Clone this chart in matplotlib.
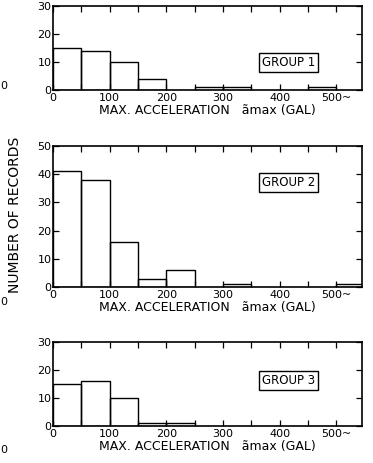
import matplotlib
matplotlib.use("Agg")
import matplotlib.pyplot as plt
import numpy as np

# histogram bins (gal) and counts
bin_left = [0, 50, 100, 150, 200, 250, 300, 350, 400, 450, 500]
group1 = [15, 14, 10, 4, 0, 1, 1, 0, 0, 1, 0]
group2 = [41, 38, 16, 3, 6, 0, 1, 0, 0, 0, 1]
group3 = [15, 16, 10, 1, 1, 0, 0, 0, 0, 0, 0]
group_names = ["GROUP 1", "GROUP 2", "GROUP 3"]
y_max = [30, 50, 30]
x_ticks = [0, 100, 200, 300, 400, 500]
x_ticklabels = ["0", "100", "200", "300", "400", "500~"]

plt.rcParams['font.family'] = ['DejaVu Sans']

fig = plt.figure(figsize=(3.73, 4.63), dpi=100)

# axes boxes in figure fraction: left, bottom, width, height
boxes = [
    [0.142, 0.806, 0.828, 0.181],
    [0.142, 0.380, 0.828, 0.305],
    [0.142, 0.080, 0.828, 0.181],
]
label_y = [0.33, 0.74, 0.54]

for counts, name, ymax, box, ly in zip([group1, group2, group3], group_names,
                                       y_max, boxes, label_y):
    ax = fig.add_axes(box)
    h = np.array(counts, dtype=float)
    keep = h > 0
    ax.bar(np.array(bin_left)[keep], h[keep], width=50, align='edge',
           fill=False, edgecolor='black', linewidth=1.0)
    ax.set_xlim(0, 545)
    ax.set_ylim(0, ymax)
    ax.set_xticks(x_ticks)
    ax.set_xticklabels(x_ticklabels, fontsize=8)
    ax.set_xticks(np.arange(50, 545, 100), minor=True)
    ax.set_yticks(np.arange(0, ymax + 1, 10))
    ax.tick_params(axis='y', labelsize=8, pad=1)
    ax.tick_params(which='both', direction='in', top=True, right=True,
                   length=4, width=0.9)
    ax.tick_params(axis='x', pad=2)
    for s in ax.spines.values():
        s.set_linewidth(1.2)
    ax.text(0.764, ly, name, transform=ax.transAxes, ha='center', va='center',
            fontsize=8.5,
            bbox=dict(boxstyle='square,pad=0.25', fc='white', ec='black', lw=1.0))
    ax.set_xlabel("MAX. ACCELERATION   ãmax (GAL)", fontsize=9, labelpad=1)

fig.text(0.04, 0.535, "NUMBER OF RECORDS", rotation=90, ha='center',
         va='center', fontsize=10)

# fragments from the neighbouring figure at the left edge
for yy in [0.815, 0.348, 0.028]:
    fig.text(0.0, yy, "0", fontsize=8, ha='left', va='center')

fig.savefig("out.png", dpi=100)
